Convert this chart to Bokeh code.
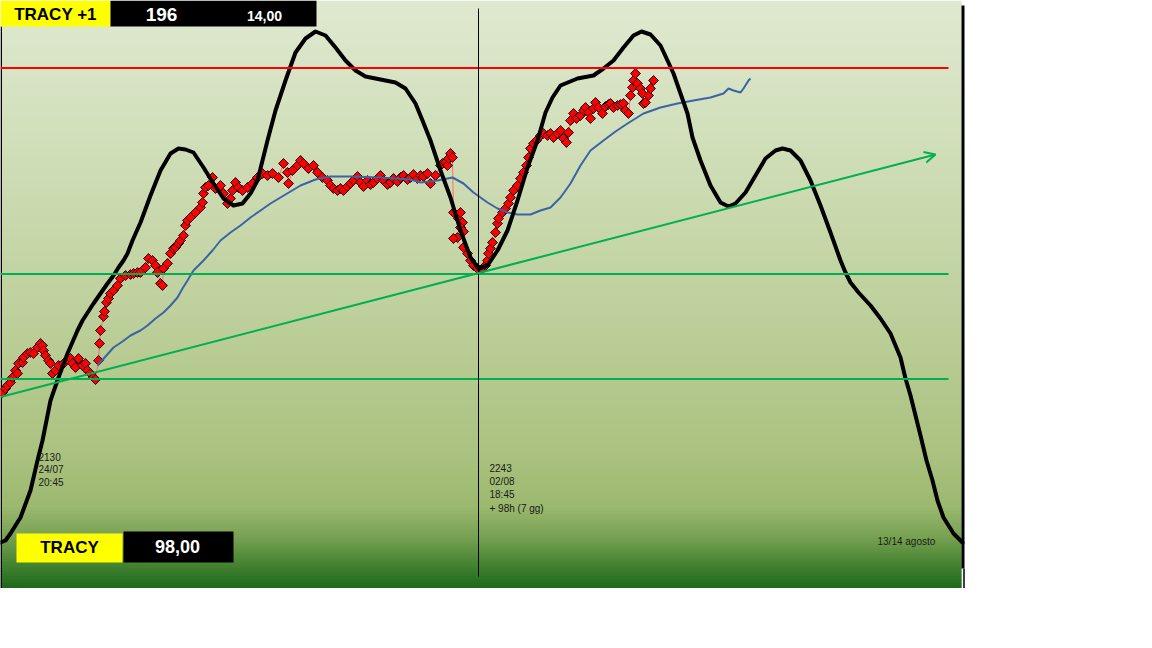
from bokeh.plotting import figure
from bokeh.models import Range1d, Arrow, OpenHead
from bokeh.core.properties import value
from bokeh.embed import file_html
from bokeh.resources import INLINE
import math

# ---------------- data (x = time index, y = chart level, top = 0) ----------------
curve_x = [0, 5, 10, 20, 30, 37, 42, 50, 58, 67, 77, 82, 93, 100, 107, 113, 118, 123, 127, 132, 140, 150,
           160, 170, 178, 185, 193, 203, 213, 223, 233, 242, 250, 257, 262, 267, 275, 285, 295, 305, 315, 325,
           335, 345, 355, 365, 380, 395, 405, 415, 422, 430, 440, 450, 460, 470, 478, 487, 497, 507, 517, 527,
           537, 545, 552, 560, 577, 593, 603, 613, 623, 633, 641, 650, 660, 667, 673, 680, 687, 692, 700, 710,
           720, 728, 735, 745, 755, 765, 775, 782, 790, 800, 810, 820, 830, 840, 845, 850, 858, 870, 880, 890, 900,
           905, 910, 920, 926, 932, 937, 943, 953, 962]
curve_y = [542, 540, 533, 517, 490, 460, 440, 400, 377, 353, 330, 320, 303, 293, 283, 275, 267, 260, 253, 240, 222, 195,
           170, 153, 148, 149, 152, 167, 183, 198, 205, 203, 193, 180, 160, 140, 110, 80, 52, 38, 31, 35,
           47, 60, 70, 76, 79, 82, 88, 103, 120, 140, 170, 197, 230, 257, 268, 265, 250, 230, 200, 167,
           140, 112, 97, 85, 78, 75, 68, 60, 47, 35, 31, 34, 45, 60, 73, 93, 113, 137, 160, 185,
           202, 206, 203, 192, 175, 158, 150, 148, 150, 160, 180, 205, 232, 260, 272, 282, 292, 305, 318, 333, 357,
           378, 395, 435, 460, 480, 500, 517, 533, 542]

avg_x = [97, 105, 113, 122, 130, 140, 147, 155, 163, 170, 177, 182, 187, 193, 203, 212, 220, 230, 240, 250,
         260, 270, 280, 290, 300, 315, 330, 350, 380, 410, 420, 437, 452, 463, 473, 487, 497, 507, 517, 530,
         540, 550, 560, 570, 580, 590, 603, 615, 627, 643, 660, 677, 693, 710, 723, 728, 733, 740, 743, 748, 750]
avg_y = [365, 356, 347, 341, 335, 330, 325, 318, 312, 305, 297, 288, 280, 270, 260, 250, 240, 232, 225, 217,
         210, 203, 197, 191, 185, 179, 176, 176, 177, 179, 182, 180, 177, 183, 192, 202, 208, 212, 214, 214,
         210, 207, 197, 183, 165, 150, 140, 131, 123, 113, 107, 103, 100, 97, 93, 88, 90, 92, 88, 80, 78]

tracy_x = [2, 5, 7, 10, 12, 15, 17, 18, 22, 23, 27, 30, 33, 37, 40, 42, 43, 45, 48, 50, 52, 55, 58, 63, 67, 70,
           72, 75, 78, 82, 85, 87, 90, 93, 95, 98, 99, 100,
           103, 104, 106, 108, 110, 113, 117, 120, 125, 130, 133, 137, 140, 145, 148, 152, 155, 157, 160, 162,
           163, 167, 170, 173, 175, 178,
           180, 183, 185, 187, 190, 195, 200, 202, 203, 205, 208, 212, 215, 220, 223, 227, 230, 232, 235, 238,
           242, 247, 252, 257, 262, 267, 272, 278, 283, 287, 288, 292, 297, 300, 303, 308, 313, 317, 322, 327,
           330, 333, 337, 340, 343, 347, 350, 353, 357, 360, 363, 367, 370, 373, 377, 380, 383, 387, 390, 393,
           397, 400, 403, 407, 410, 413, 417, 420, 423, 427, 430, 435, 440, 442, 445, 447, 448, 450, 452,
           453, 458, 460, 462, 460, 463, 457, 453, 463, 467, 470, 473, 477, 482, 485, 487, 488, 490, 492, 495,
           497, 498, 502, 505, 508, 510, 513, 517, 520, 523, 526, 528, 530, 533,
           536, 540, 543, 547, 550, 553, 557, 560, 563, 566, 568, 570, 573, 576, 580, 583, 585, 588, 590, 593,
           595, 598, 602, 605, 608, 610, 613, 617, 620, 623, 625, 628, 630, 632, 633, 635, 637, 640, 642, 643,
           645, 648, 650, 653]
tracy_y = [392, 388, 385, 382, 377, 370, 373, 363, 362, 357, 353, 352, 353, 347, 343, 345, 350, 355, 360, 363,
           373, 370, 365, 363, 359, 358, 363, 367, 358, 365, 363, 370, 373, 377, 379, 360, 343, 330,
           316, 311, 302, 298, 293, 290, 285, 278, 275, 274, 273, 272, 272, 267, 258, 260, 265, 272, 283, 285,
           268, 263, 253, 248, 247, 243,
           240, 235, 225, 220, 217, 212, 207, 202, 193, 187, 185, 177, 188, 185, 193, 203, 198, 190, 182, 187,
           190, 187, 183, 177, 173, 175, 173, 177, 163, 172, 183, 170, 165, 160, 163, 168, 165, 172, 177, 180,
           185, 188, 190, 188, 190, 186, 183, 180, 176, 182, 186, 180, 184, 182, 178, 175, 180, 184, 182, 178,
           181, 177, 175, 179, 177, 174, 178, 175, 176, 173, 183, 175, 165, 163, 162, 165, 158, 153, 157,
           212, 218, 212, 222, 227, 231, 237, 238, 247, 253, 260, 265, 268, 268, 265, 260, 253, 248, 242, 232,
           223, 218, 212, 208, 203, 197, 190, 185, 178, 172, 165, 157, 148, 143,
           140, 135, 133, 135, 133, 137, 133, 130, 138, 142, 132, 120, 113, 118, 115, 110, 107, 112, 118, 108,
           102, 107, 113, 106, 104, 103, 107, 105, 104, 103, 110, 113, 95, 87, 80, 73, 83, 88, 93, 103,
           102, 95, 88, 80]

red_level = 67.5
green_levels = [273.5, 378.5]
trend_start = (0, 396.5)
trend_end = (935, 154)
marker_x = 478

top_labels = ["TRACY +1", "196", "14,00"]
bottom_labels = ["TRACY", "98,00"]
note_start = ["2130", "24/07", "20:45"]
note_mid = ["2243", "02/08", "18:45", "+ 98h (7 gg)"]
note_end = "13/14 agosto"

# ---------------- figure ----------------
W, H = 965, 588
p = figure(width=W, height=H, x_range=Range1d(0, W), y_range=Range1d(H, 0),
           output_backend="svg", toolbar_location=None, min_border=0,
           x_axis_type=None, y_axis_type=None)
p.grid.visible = False
p.outline_line_color = None
p.background_fill_color = "white"
p.border_fill_color = "white"

# background gradient
stops = [(0, (223, 233, 208)), (150, (208, 222, 184)), (300, (191, 209, 158)), (450, (171, 194, 128)),
         (505, (156, 185, 111)), (535, (122, 163, 84)), (560, (76, 135, 53)), (588, (28, 104, 28))]
def grad(yv):
    for (y0, c0), (y1, c1) in zip(stops[:-1], stops[1:]):
        if y0 <= yv <= y1:
            t = (yv - y0) / (y1 - y0)
            return "#%02x%02x%02x" % tuple(int(round(a + (b - a) * t)) for a, b in zip(c0, c1))
    return "#%02x%02x%02x" % stops[-1][1]
step = 3
tops = list(range(0, H, step))
p.quad(left=0, right=961, top=tops, bottom=[min(t + step + 2, H) for t in tops],
       fill_color=[grad(t + step / 2) for t in tops], line_color=None)

# borders
p.segment(x0=[0.75], y0=[26], x1=[0.75], y1=[H], line_color="black", line_width=1.5)
p.segment(x0=[962.5], y0=[5], x1=[962.5], y1=[568], line_color="black", line_width=3)
p.segment(x0=[963.5], y0=[568], x1=[963.5], y1=[H], line_color="black", line_width=1.5)

# price series
p.line(tracy_x, tracy_y, line_color="#ff6b6b", line_width=1)
p.scatter(tracy_x, tracy_y, marker="square", size=7, angle=math.pi / 4,
          fill_color="#ff0000", line_color="#1a0000", line_width=1)

# moving average
p.line(avg_x, avg_y, line_color="#3b64a6", line_width=2)

# black oscillator curve
p.line(curve_x, curve_y, line_color="black", line_width=4, line_join="round", line_cap="round")

# horizontal levels
p.segment(x0=[0], y0=[red_level], x1=[948], y1=[red_level], line_color="#ff0000", line_width=2)
p.segment(x0=[0] * len(green_levels), y0=green_levels, x1=[948] * len(green_levels), y1=green_levels,
          line_color="#00b050", line_width=2)

# trend arrow
p.add_layout(Arrow(end=OpenHead(size=11, line_color="#00b050", line_width=2),
                   x_start=trend_start[0], y_start=trend_start[1],
                   x_end=trend_end[0], y_end=trend_end[1],
                   line_color="#00b050", line_width=2))

# vertical marker
p.segment(x0=[marker_x], y0=[8], x1=[marker_x], y1=[576], line_color="black", line_width=1)

# small notes
nf = value("Liberation Sans")
p.text(x=[38] * len(note_start), y=[456 + 13 * i for i in range(len(note_start))], text=note_start,
       text_font=nf, text_font_size="10px", text_baseline="middle", text_color="#1a1a1a")
p.text(x=[489] * len(note_mid), y=[467.5 + 13.4 * i for i in range(len(note_mid))], text=note_mid,
       text_font=nf, text_font_size="10px", text_baseline="middle", text_color="#1a1a1a")
p.text(x=[877], y=[541], text=[note_end],
       text_font=nf, text_font_size="10px", text_baseline="middle", text_color="#1a1a1a")

# label boxes
p.quad(left=[0, 110], right=[110, 316], top=[0, 0], bottom=[26, 26],
       fill_color=["#ffff00", "#000000"], line_color=None)
p.quad(left=[16, 123], right=[122, 233], top=[533, 531], bottom=[562, 562],
       fill_color=["#ffff00", "#000000"], line_color=None)
af = value("Liberation Sans")
p.text(x=[55], y=[14], text=[top_labels[0]], text_font=af, text_font_size="17px", text_font_style="bold",
       text_align="center", text_baseline="middle", text_color="black")
p.text(x=[161], y=[14], text=[top_labels[1]], text_font=af, text_font_size="19px", text_font_style="bold",
       text_align="center", text_baseline="middle", text_color="white")
p.text(x=[264], y=[15], text=[top_labels[2]], text_font=af, text_font_size="14px", text_font_style="bold",
       text_align="center", text_baseline="middle", text_color="white")
p.text(x=[69], y=[547], text=[bottom_labels[0]], text_font=af, text_font_size="17px", text_font_style="bold",
       text_align="center", text_baseline="middle", text_color="black")
p.text(x=[177], y=[546], text=[bottom_labels[1]], text_font=af, text_font_size="18px", text_font_style="bold",
       text_align="center", text_baseline="middle", text_color="white")

open("out.html", "w").write(file_html(p, INLINE))
